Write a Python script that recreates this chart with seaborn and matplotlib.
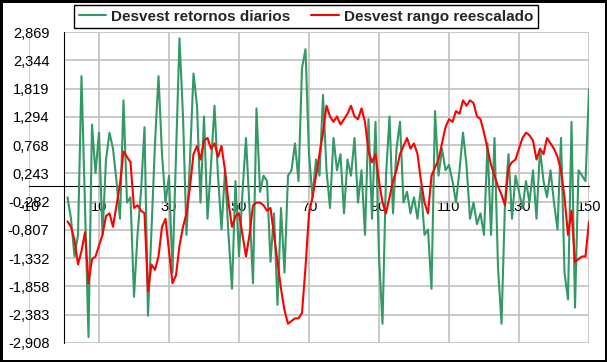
import pandas as pd
import seaborn as sns
import matplotlib.pyplot as plt

# valores (indice 1..150)
retornos = [-0.2, -0.6, -1.3, -0.9, 2.05, -0.4, -2.8, 1.15, 0.25, 1.0,
            -0.9, 0.5, 1.0, 0.7, 0.1, -0.6, 1.6, -0.3, -0.2, -2.05,
            -0.9, -0.1, 1.1, -2.4, -0.8, 0.8, 2.05, 0.6, -0.3, 0.2,
            -1.6, 0.6, 2.75, 1.3, -0.9, 0.5, 2.1, 1.5, -0.3, 1.3,
            -0.6, 0.4, 1.5, 0.2, -0.8, 0.3, -0.9, -1.9, 0.1, -1.3,
            -0.1, 0.9, -0.4, -1.8, 1.45, -0.1, 0.2, 0.1, -1.4, -0.5,
            -2.2, -0.4, -1.6, 0.2, 0.3, 0.8, 0.1, 2.2, 2.55, 0.6,
            -0.2, 0.5, 0.2, 1.7, 0.3, -0.4, 0.9, 0.3, 0.6, -0.5,
            0.5, 0.2, 0.9, -0.3, 0.3, -0.9, 1.25, -0.6, 1.2, -1.3,
            -2.55, 0.2, 1.3, -0.5, 0.7, 1.2, -0.3, -0.1, -0.5, -0.2,
            -0.6, 0.0, -0.9, -0.8, -1.9, 1.4, 0.2, 0.7, 0.3, 0.4,
            0.1, -0.3, 0.3, 1.0, 0.4, -0.6, -0.3, -0.7, -0.5, -0.9,
            0.8, -0.9, 0.9, -1.5, -2.55, -0.3, 0.6, -0.6, 0.2, -0.1,
            -0.4, 0.1, -0.3, 0.3, -0.6, 0.7, 0.1, -0.2, 0.3, -0.3,
            -0.8, 0.9, -1.6, -2.1, 1.2, -2.25, 0.3, 0.2, 0.1, 1.8]

rango = [-0.65, -0.75, -1.0, -1.45, -1.2, -0.85, -1.8, -1.35, -1.3, -1.1,
         -0.9, -0.55, -0.5, -0.75, -0.35, 0.05, 0.65, 0.55, 0.45, -0.4,
         -0.35, -0.45, -0.5, -1.95, -1.45, -1.55, -1.3, -0.75, -0.6, -1.2,
         -1.8, -1.65, -1.1, -0.75, -0.5, 0.0, 0.6, 0.75, 0.5, 0.85,
         0.9, 0.7, 0.8, 0.55, 0.75, 0.3, -0.3, -0.75, -0.55, -0.5,
         -0.9, -1.3, -0.9, -0.35, -0.3, -0.3, -0.35, -0.45, -0.4, -0.9,
         -1.4, -1.9, -2.3, -2.55, -2.5, -2.45, -2.45, -2.35, -1.5, -0.5,
         -0.2, 0.2, 0.6, 1.0, 1.5, 1.3, 1.2, 1.3, 1.15, 1.25,
         1.35, 1.5, 1.3, 1.25, 1.45, 1.2, 0.65, 0.45, 0.6, 0.1,
         -0.3, -0.5, -0.2, 0.1, 0.3, 0.6, 0.75, 0.9, 0.7, 0.8,
         0.6, 0.1, -0.3, -0.5, 0.2, 0.35, 0.5, 0.8, 1.1, 1.25,
         1.2, 1.4, 1.35, 1.6, 1.5, 1.6, 1.55, 1.3, 1.25, 1.0,
         0.7, 0.4, 0.2, 0.0, -0.15, -0.35, 0.35, 0.45, 0.5, 0.7,
         0.9, 1.0, 0.95, 0.85, 0.5, 0.7, 0.6, 0.9, 0.8, 0.7,
         0.55, 0.3, -0.2, -0.9, -0.45, -1.4, -1.35, -1.3, -1.3, -0.65]

periodo = list(range(1, 151))

ytick_labels = ['-2,908', '-2,383', '-1,858', '-1,332', '-0,807', '-0,282',
                '0,243', '0,768', '1,294', '1,819', '2,344', '2,869']
xticks = [-10, 10, 30, 50, 70, 90, 110, 130, 150]

serie1 = 'Desvest retornos diarios'
serie2 = 'Desvest rango reescalado'

df = pd.DataFrame({'periodo': periodo, serie1: retornos, serie2: rango})
long_df = df.melt(id_vars='periodo', var_name='serie', value_name='valor')

sns.set_style('white')
plt.rcParams['font.family'] = ['Liberation Sans', 'DejaVu Sans']

fig = plt.figure(figsize=(6.07, 3.62), dpi=100)
ax = fig.add_axes([29 / 607, 19 / 362, 560 / 607, 311 / 362])

sns.lineplot(data=long_df, x='periodo', y='valor', hue='serie',
             palette={serie1: '#339966', serie2: '#FF0000'},
             linewidth=1.5, ax=ax, zorder=3)

yvals = [float(s.replace(',', '.')) for s in ytick_labels]
ax.set_xlim(-10, 150)
ax.set_ylim(yvals[0], yvals[-1])

# rejilla: horizontales solo a la derecha del eje de valores
ax.hlines(yvals, 0, 150, color='#C0C0C0', linewidth=1.2, zorder=1)
ax.set_xticks(xticks)
ax.set_xticklabels([str(v) for v in xticks], rotation=90)
ax.grid(axis='x', color='#C0C0C0', linewidth=1.2)
ax.set_yticks(yvals)
ax.set_yticklabels(ytick_labels)

for s in ['top', 'right']:
    ax.spines[s].set_visible(False)
ax.spines['left'].set_position(('data', 0))
ax.spines['bottom'].set_position(('data', 0))
ax.spines['left'].set_color('black')
ax.spines['bottom'].set_color('black')
ax.spines['left'].set_zorder(2)
ax.spines['bottom'].set_zorder(2)

ax.tick_params(axis='both', direction='out', length=4, width=1,
               color='black', labelsize=10.5, labelcolor='black')
ax.tick_params(axis='x', pad=6)
ax.tick_params(axis='y', pad=6.5)
ax.set_xlabel('')
ax.set_ylabel('')

handles, labels = ax.get_legend_handles_labels()
ax.get_legend().remove()
leg = fig.legend(handles, labels, loc='upper left',
                 bbox_to_anchor=(74 / 607, 0, 464 / 607, 357 / 362),
                 mode='expand', ncol=2, frameon=True, fancybox=False,
                 framealpha=1, edgecolor='black', borderaxespad=0,
                 prop={'weight': 'bold', 'size': 11},
                 handlelength=1.8, handletextpad=0.35, borderpad=0.3)
leg.get_frame().set_linewidth(1.0)

fig.patch.set_edgecolor('black')
fig.patch.set_linewidth(2.5)

fig.savefig('out.png', dpi=100)
